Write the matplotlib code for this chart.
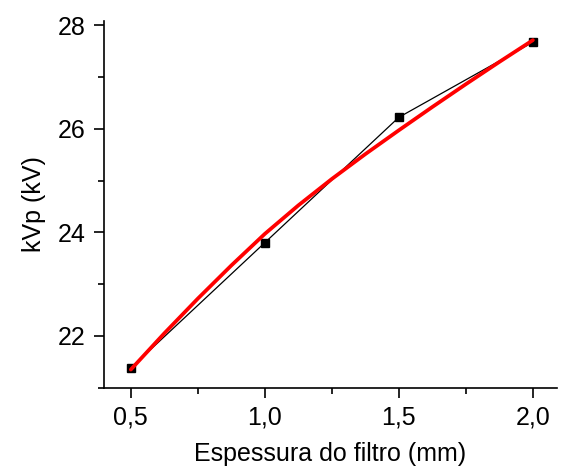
import numpy as np
import matplotlib.pyplot as plt
from matplotlib.ticker import MultipleLocator, FuncFormatter

plt.rcParams['font.family'] = ['Liberation Sans', 'DejaVu Sans']

# measured points
espessura = [0.5, 1.0, 1.5, 2.0]
kvp = [21.38, 23.80, 26.22, 27.67]

# fitted curve
fit_x = [0.5, 0.625, 0.75, 0.875, 1.0, 1.125, 1.25, 1.375, 1.5, 1.625, 1.75, 1.875, 2.0]
fit_y = [21.35, 22.05, 22.72, 23.36, 23.97, 24.52, 25.03, 25.51, 25.97,
         26.42, 26.86, 27.29, 27.71]

fig = plt.figure(figsize=(5.64, 4.66), dpi=100)
ax = fig.add_axes([0.1844, 0.168, 0.8032, 0.787])

ax.plot(espessura, kvp, color='black', lw=0.9, marker='s', ms=6,
        markerfacecolor='black', markeredgecolor='black', zorder=2)
ax.plot(fit_x, fit_y, color='red', lw=2.7, zorder=3, solid_capstyle='round')

ax.set_xlim(0.4, 2.09)
ax.set_ylim(21.0, 28.08)

ax.xaxis.set_major_locator(MultipleLocator(0.5))
ax.xaxis.set_minor_locator(MultipleLocator(0.25))
ax.yaxis.set_major_locator(MultipleLocator(2))
ax.yaxis.set_minor_locator(MultipleLocator(1))
ax.xaxis.set_major_formatter(FuncFormatter(lambda v, p: f'{v:.1f}'.replace('.', ',')))
ax.yaxis.set_major_formatter(FuncFormatter(lambda v, p: f'{v:.0f}'))

for s in ['top', 'right']:
    ax.spines[s].set_visible(False)
for s in ['left', 'bottom']:
    ax.spines[s].set_linewidth(1.2)

ax.tick_params(which='major', direction='out', length=7, width=1.2, labelsize=18, pad=6)
ax.tick_params(which='minor', direction='out', length=4, width=1.2)

ax.set_xlabel('Espessura do filtro (mm)', fontsize=18, labelpad=9)
ax.set_ylabel('kVp (kV)', fontsize=18, labelpad=9)

fig.savefig('out.png', dpi=100)
